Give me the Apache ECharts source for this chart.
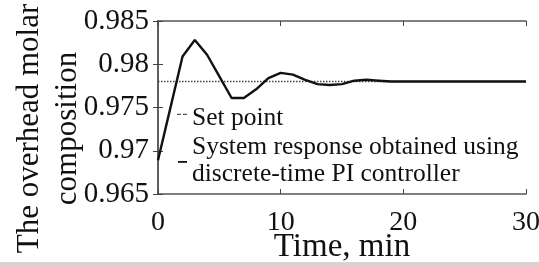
<!DOCTYPE html>
<html lang="en">
<head>
    <meta charset="UTF-8">
    <title>Overhead molar composition</title>
    <script src="https://cdn.jsdelivr.net/npm/echarts@6/dist/echarts.min.js"></script>
    <style>
        html, body { margin: 0; padding: 0; background: #fff; }
        #chart { width: 539px; height: 266px; }
    </style>
</head>
<body>
    <div id="chart"></div>
    <script>
        // data
        var time = [0, 1, 2, 3, 4, 5, 6, 7, 8, 9, 10, 11, 12, 13, 14, 15, 16, 17, 18, 19, 20, 22, 24, 26, 28, 30];
        var response = [0.9689, 0.9749, 0.9809, 0.9828, 0.9811, 0.9786, 0.9761, 0.9761, 0.9771, 0.9784, 0.9790, 0.9788, 0.9782, 0.9777, 0.9776, 0.9777, 0.9781, 0.9782, 0.9781, 0.9780, 0.9780, 0.9780, 0.9780, 0.9780, 0.9780, 0.9780];
        var setPointTime = [0, 30];
        var setPoint = [0.978, 0.978];
        var seriesNames = ['Set point', 'System response obtained using\ndiscrete-time PI controller'];

        var font = '"Liberation Serif", "Times New Roman", serif';
        var chart = echarts.init(document.getElementById('chart'));

        function pairs(xs, ys) {
            return xs.map(function (x, i) { return [x, ys[i]]; });
        }

        var tickStyle = { show: true, inside: true, length: 5, lineStyle: { color: '#444', width: 1 } };
        var lineStyle = { show: true, lineStyle: { color: '#555', width: 1.5 } };

        option = {
            animation: false,
            backgroundColor: '#fff',
            grid: { left: 158, right: 13, top: 21, bottom: 72, containLabel: false, outerBoundsMode: 'none' },
            legend: {
                orient: 'vertical',
                left: 172,
                top: 100,
                itemWidth: 10,
                itemHeight: 14,
                itemGap: 1,
                textStyle: { fontFamily: font, fontSize: 25.5, color: '#111', lineHeight: 27.5 },
                data: [
                    // moveTo points fix the icon's box so the marks keep their place in it
                    { name: seriesNames[0], icon: 'path://M0,0M10,14M0,2h4v1.2h-4zM6,2h4v1.2h-4z' },
                    { name: seriesNames[1], icon: 'path://M0,0M10,14M1,7h9v1.8h-9z' }
                ]
            },
            xAxis: [{
                type: 'value', min: 0, max: 30, interval: 10,
                name: 'Time, min', nameLocation: 'middle', nameGap: 37, nameMoveOverlap: false,
                nameTextStyle: { fontFamily: font, fontSize: 33, color: '#111' },
                axisLine: lineStyle, axisTick: tickStyle, splitLine: { show: false },
                axisLabel: { fontFamily: font, fontSize: 28, color: '#111', margin: 15 }
            }, {
                type: 'value', position: 'top', min: 0, max: 30, interval: 10,
                axisLine: lineStyle, axisTick: tickStyle, splitLine: { show: false },
                axisLabel: { show: false }
            }],
            yAxis: [{
                type: 'value', min: 0.965, max: 0.985, interval: 0.005,
                name: 'The overhead molar\ncomposition', nameLocation: 'middle', nameGap: 71, nameMoveOverlap: false,
                nameTextStyle: { fontFamily: font, fontSize: 31, color: '#111', lineHeight: 38, padding: [0, 42, 0, 0] },
                axisLine: lineStyle, axisTick: tickStyle, splitLine: { show: false },
                axisLabel: { fontFamily: font, fontSize: 29, color: '#111', margin: 9 }
            }, {
                type: 'value', position: 'right', min: 0.965, max: 0.985, interval: 0.005,
                axisLine: lineStyle, axisTick: tickStyle, splitLine: { show: false },
                axisLabel: { show: false }
            }],
            series: [{
                name: seriesNames[0],
                type: 'line',
                symbol: 'none',
                data: pairs(setPointTime, setPoint),
                lineStyle: { color: '#444', width: 1.6, type: [1.5, 1.5] },
                itemStyle: { color: '#555' }
            }, {
                name: seriesNames[1],
                type: 'line',
                symbol: 'none',
                data: pairs(time, response),
                lineStyle: { color: '#111', width: 2.4 },
                itemStyle: { color: '#111' }
            }],
            graphic: [{
                type: 'rect', shape: { x: 0, y: 262, width: 539, height: 4 },
                style: { fill: '#d4d4d4' }, silent: true
            }]
        };
        chart.setOption(option);
    </script>
</body>
</html>
